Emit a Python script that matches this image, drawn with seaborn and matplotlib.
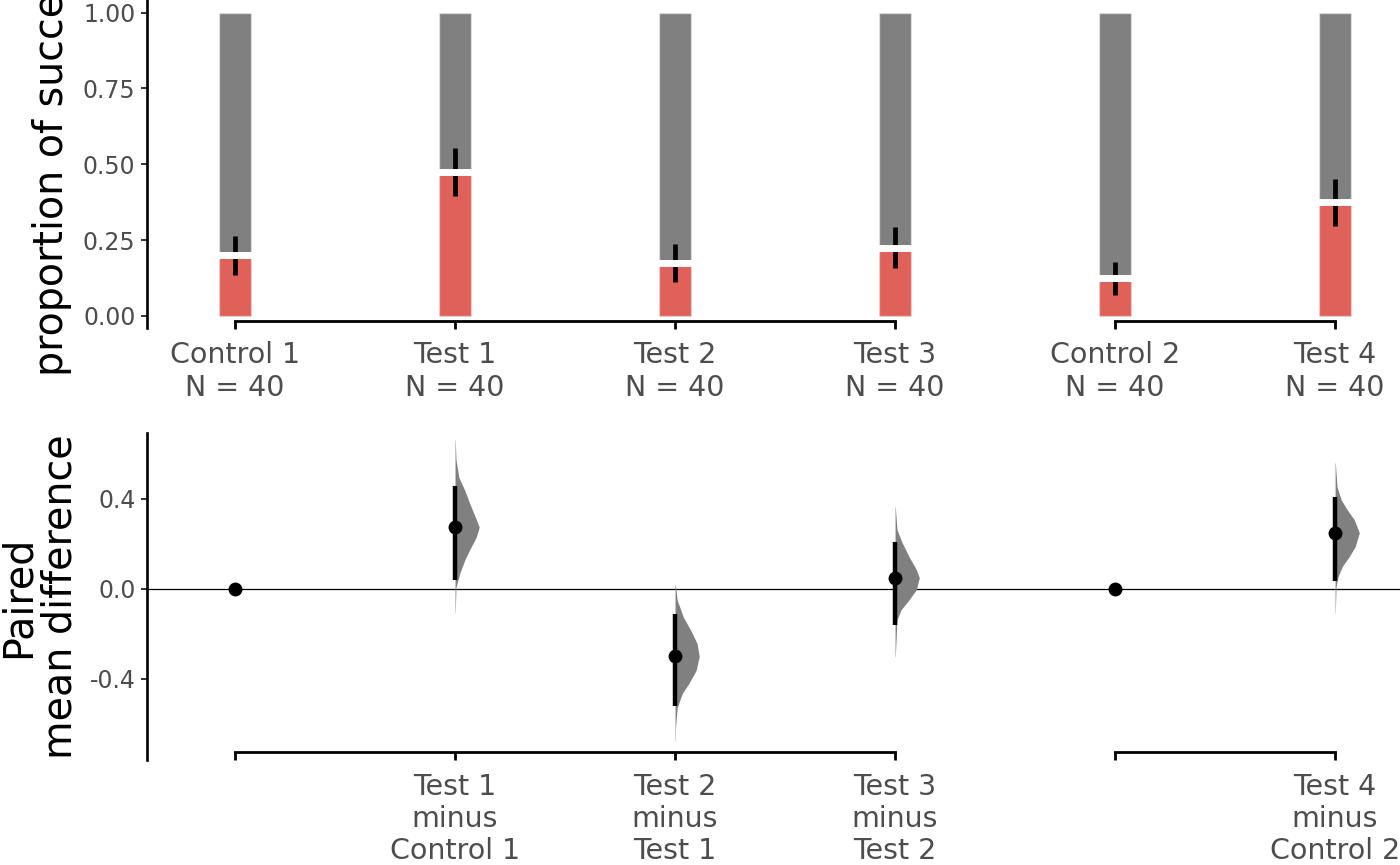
import numpy as np
import pandas as pd
import seaborn as sns
import matplotlib.pyplot as plt

groups = ['Control 1', 'Test 1', 'Test 2', 'Test 3', 'Control 2', 'Test 4']
n_obs = [40, 40, 40, 40, 40, 40]
prop_success = [0.200, 0.475, 0.175, 0.225, 0.125, 0.375]
err_low = [0.135, 0.396, 0.112, 0.158, 0.069, 0.297]
err_high = [0.264, 0.554, 0.238, 0.294, 0.178, 0.452]

# two shared-control blocks: Control 1 .. Test 3, Control 2 .. Test 4
block_start = [0, 4]
block_end = [3, 5]

# paired contrasts (each group minus the one before it)
contrast_test = ['', 'Test 1', 'Test 2', 'Test 3', '', 'Test 4']
contrast_ref = ['', 'Control 1', 'Test 1', 'Test 2', '', 'Control 2']
mean_diff = [0.0, 0.275, -0.300, 0.050, 0.0, 0.250]
ci_low = [np.nan, 0.038, -0.520, -0.160, np.nan, 0.036]
ci_high = [np.nan, 0.458, -0.111, 0.209, np.nan, 0.409]

# bootstrap distribution outlines
# (offset from the mean difference, width relative to the widest point)
dist_t1_off = [0.387, 0.30, 0.22, 0.164, 0.107, 0.044, 0.0, -0.044, -0.102, -0.147, -0.204, -0.267, -0.38]
dist_t1_w = [0.01, 0.04, 0.16, 0.40, 0.60, 0.84, 1.0, 0.88, 0.60, 0.40, 0.20, 0.04, 0.01]
dist_t2_off = [0.32, 0.25, 0.173, 0.116, 0.058, 0.0, -0.062, -0.12, -0.164, -0.227, -0.316, -0.375]
dist_t2_w = [0.01, 0.09, 0.35, 0.65, 0.91, 1.0, 0.87, 0.57, 0.30, 0.09, 0.02, 0.01]
dist_t3_off = [0.316, 0.213, 0.156, 0.093, 0.036, 0.0, -0.053, -0.098, -0.142, -0.187, -0.351]
dist_t3_w = [0.01, 0.08, 0.29, 0.58, 0.88, 1.0, 0.88, 0.58, 0.25, 0.08, 0.01]
dist_t4_off = [0.311, 0.204, 0.147, 0.102, 0.058, 0.0, -0.062, -0.107, -0.151, -0.196, -0.24, -0.356]
dist_t4_w = [0.01, 0.08, 0.25, 0.50, 0.79, 1.0, 0.83, 0.58, 0.29, 0.12, 0.04, 0.01]

sns.set_style("ticks")
plt.rcParams['font.family'] = ['DejaVu Sans']

grey = "#808080"
red = "#DF6159"
label_col = "#4D4D4D"

fig = plt.figure(figsize=(14, 8.65), dpi=100)
ax_top = fig.add_axes([147 / 1400, 1 - 328 / 865, 1253 / 1400, 328 / 865])
ax_bot = fig.add_axes([147 / 1400, 1 - 760 / 865, 1253 / 1400, 327 / 865])

pos = np.arange(len(groups))

# ---- top: proportion bars ----
df_prop = pd.DataFrame({'group': groups, 'prop': prop_success, 'total': 1.0})
bar_kw = dict(order=groups, saturation=1, width=0.145, errorbar=None,
              edgecolor=(1, 1, 1, 0.45), linewidth=1, ax=ax_top)
sns.barplot(data=df_prop, x='group', y='total', color=grey, **bar_kw)
sns.barplot(data=df_prop, x='group', y='prop', color=red, **bar_kw)

ax_top.vlines(pos, err_low, err_high, color='black', lw=3.4, zorder=3)
ax_top.hlines(prop_success, pos - 0.08, pos + 0.08, color='white', lw=5, zorder=4)

top_bracket = -0.0149
ax_top.hlines([top_bracket] * 2, block_start, block_end, color='black', lw=2,
              capstyle='projecting', clip_on=False, zorder=5)

ax_top.set_xlim(-0.4, 5.295)
ax_top.set_ylim(-0.0396, 1.0416)
ax_top.set_yticks([0, 0.25, 0.5, 0.75, 1.0])
ax_top.set_yticklabels(['0.00', '0.25', '0.50', '0.75', '1.00'])
ax_top.set_xticks(pos)
ax_top.set_xticklabels([f"{g}\nN = {n}" for g, n in zip(groups, n_obs)])
ax_top.set_xlabel("")
ax_top.set_ylabel("proportion of success", fontsize=28.5, color='black')

ax_top.spines['bottom'].set_position(('data', top_bracket))

# ---- bottom: paired mean differences ----
ax_bot.axhline(0, color='black', lw=0.9, zorder=1)

dists = [(1, dist_t1_off, dist_t1_w), (2, dist_t2_off, dist_t2_w),
         (3, dist_t3_off, dist_t3_w), (5, dist_t4_off, dist_t4_w)]
peak_w = 0.11
for i, off, w in dists:
    yy = mean_diff[i] + np.array(off)
    ax_bot.fill_betweenx(yy, pos[i], pos[i] + peak_w * np.array(w),
                         color=grey, lw=0, zorder=2)

ax_bot.vlines(pos, ci_low, ci_high, color='black', lw=3.2, zorder=3)
sns.scatterplot(x=pos, y=mean_diff, s=100, color='black', linewidth=0,
                ax=ax_bot, zorder=4)

bot_bracket = -0.723
ax_bot.hlines([bot_bracket] * 2, block_start, block_end, color='black', lw=2,
              capstyle='projecting', clip_on=False, zorder=5)

ax_bot.set_xlim(-0.4, 5.295)
ax_bot.set_ylim(-0.76, 0.693)
ax_bot.set_yticks([-0.4, 0.0, 0.4])
ax_bot.set_yticklabels(['-0.4', '0.0', '0.4'])
ax_bot.set_xticks(pos)
ax_bot.set_xticklabels([f"{t}\nminus\n{r}" if t else "" for t, r in zip(contrast_test, contrast_ref)])
ax_bot.set_ylabel("Paired\nmean difference", fontsize=28.5, color='black',
                  linespacing=1.05)

ax_bot.spines['bottom'].set_position(('data', bot_bracket))

for ax in (ax_top, ax_bot):
    ax.spines['top'].set_visible(False)
    ax.spines['right'].set_visible(False)
    ax.spines['bottom'].set_color('none')
    ax.spines['left'].set_linewidth(1.9)
    ax.spines['left'].set_color('black')
    ax.tick_params(axis='x', length=5.5, width=2, color='black', pad=9.5,
                   labelsize=20.5, labelcolor=label_col)
    ax.tick_params(axis='y', length=4.3, width=1.4, color='#333333', pad=4,
                   labelsize=17, labelcolor=label_col)
    ax.set_facecolor('white')

ax_top.yaxis.set_label_coords(-0.06, 0.5)
ax_bot.yaxis.set_label_coords(-0.053, 0.5)

fig.savefig("out.png", dpi=100)
